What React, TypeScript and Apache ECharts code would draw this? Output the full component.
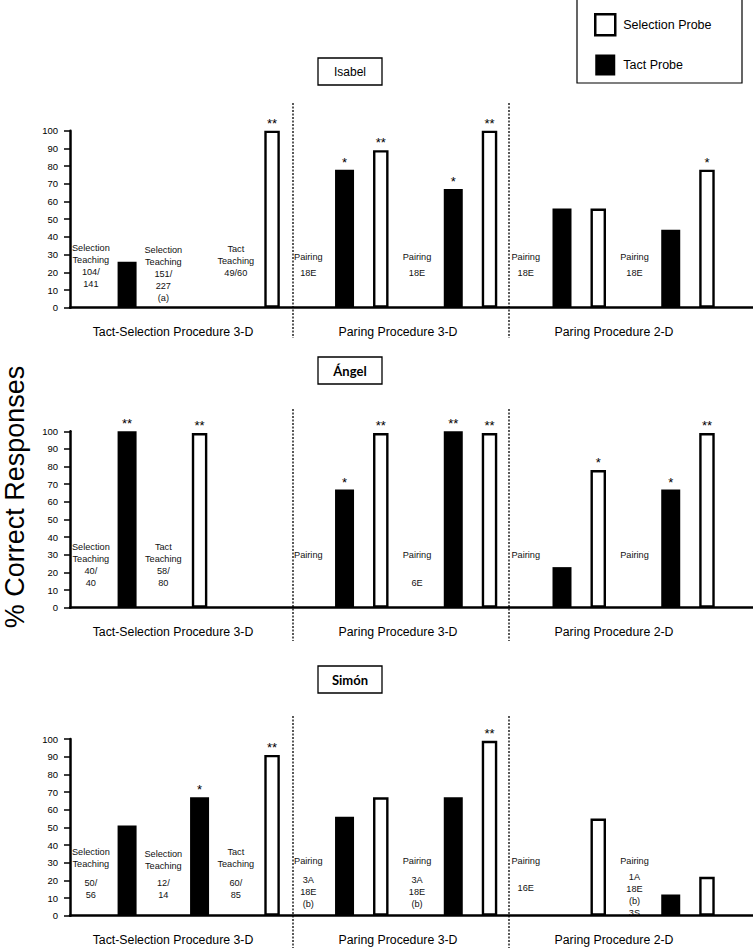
import React, { useEffect, useRef } from "react";
import * as echarts from "echarts";

// ---------- data ----------
const participants = ["Isabel", "Ángel", "Simón"];
const sectionLabels = ["Tact-Selection Procedure 3-D", "Paring Procedure 3-D", "Paring Procedure 2-D"];
const seriesNames = ["Selection Probe", "Tact Probe"];

// Isabel
const isabelTactSlots = [0, 6, 9, 12, 15];
const isabelTactValues = [26, 78, 67, 56, 44];
const isabelTactStars = ["", "*", "*", "", ""];
const isabelSelSlots = [4, 7, 10, 13, 16];
const isabelSelValues = [100, 89, 100, 56, 78];
const isabelSelStars = ["**", "**", "**", "", "*"];
const isabelNotes = [
  { slot: -1, value: 33.7, text: "Selection\nTeaching\n104/\n141" },
  { slot: 1, value: 32.6, text: "Selection\nTeaching\n151/\n227\n(a)" },
  { slot: 3, value: 33.1, text: "Tact\nTeaching\n49/60" },
  { slot: 5, value: 28.8, text: "Pairing" },
  { slot: 5, value: 19.6, text: "18E" },
  { slot: 8, value: 28.8, text: "Pairing" },
  { slot: 8, value: 19.6, text: "18E" },
  { slot: 11, value: 28.8, text: "Pairing" },
  { slot: 11, value: 19.6, text: "18E" },
  { slot: 14, value: 28.8, text: "Pairing" },
  { slot: 14, value: 19.6, text: "18E" },
];

// Ángel
const angelTactSlots = [0, 6, 9, 12, 15];
const angelTactValues = [100, 67, 100, 23, 67];
const angelTactStars = ["**", "*", "**", "", "*"];
const angelSelSlots = [2, 7, 10, 13, 16];
const angelSelValues = [99, 99, 99, 78, 99];
const angelSelStars = ["**", "**", "**", "*", "**"];
const angelNotes = [
  { slot: -1, value: 34.6, text: "Selection\nTeaching\n40/\n40" },
  { slot: 1, value: 34.6, text: "Tact\nTeaching\n58/\n80" },
  { slot: 5, value: 29.9, text: "Pairing" },
  { slot: 8, value: 29.9, text: "Pairing" },
  { slot: 8, value: 13.8, text: "6E" },
  { slot: 11, value: 29.9, text: "Pairing" },
  { slot: 14, value: 29.9, text: "Pairing" },
];

// Simón
const simonTactSlots = [0, 2, 6, 9, 15];
const simonTactValues = [51, 67, 56, 67, 12];
const simonTactStars = ["", "*", "", "", ""];
const simonSelSlots = [4, 7, 10, 13, 16];
const simonSelValues = [91, 67, 99, 55, 22];
const simonSelStars = ["**", "", "**", "", ""];
const simonNotes = [
  { slot: -1, value: 35.9, text: "Selection\nTeaching" },
  { slot: -1, value: 18.3, text: "50/\n56" },
  { slot: 1, value: 34.9, text: "Selection\nTeaching" },
  { slot: 1, value: 18.5, text: "12/\n14" },
  { slot: 3, value: 35.9, text: "Tact\nTeaching" },
  { slot: 3, value: 18.5, text: "60/\n85" },
  { slot: 5, value: 31.1, text: "Pairing" },
  { slot: 5, value: 20.2, text: "3A\n18E\n(b)" },
  { slot: 8, value: 31.1, text: "Pairing" },
  { slot: 8, value: 20.2, text: "3A\n18E\n(b)" },
  { slot: 11, value: 31.1, text: "Pairing" },
  { slot: 11, value: 15.5, text: "16E" },
  { slot: 14, value: 31.1, text: "Pairing" },
  { slot: 14, value: 21.9, text: "1A\n18E\n(b)\n3S" },
];

const panels = [
  { tact: [isabelTactSlots, isabelTactValues, isabelTactStars], sel: [isabelSelSlots, isabelSelValues, isabelSelStars], notes: isabelNotes },
  { tact: [angelTactSlots, angelTactValues, angelTactStars], sel: [angelSelSlots, angelSelValues, angelSelStars], notes: angelNotes },
  { tact: [simonTactSlots, simonTactValues, simonTactStars], sel: [simonSelSlots, simonSelValues, simonSelStars], notes: simonNotes },
];

// ---------- layout ----------
const FONT = "'Liberation Sans', Arial, Helvetica, sans-serif";
const gridTops = [130.7, 431.3, 739];
const gridHeights = [177, 176.4, 176.7];
const nameBoxTops = [58, 357, 666];
const dottedRanges = [[103, 338], [409, 641], [716, 948]];
const dottedXs = [293, 509];
const sectionXs = [173, 398, 614];
const NOTE_LH = 12;

export default function App() {
  const ref = useRef<HTMLDivElement>(null);

  useEffect(() => {
    document.body.style.margin = "0";
    const chart = echarts.init(ref.current!, null, { renderer: "svg" });

    const grids: any[] = [];
    const xAxes: any[] = [];
    const yAxes: any[] = [];
    const series: any[] = [];

    panels.forEach((p, g) => {
      grids.push({ left: 70, right: 0, top: gridTops[g], height: gridHeights[g] });
      for (let k = 0; k < 2; k++) {
        xAxes.push({
          type: "value",
          gridIndex: g,
          min: -1.575,
          max: 17.27,
          show: k === 0,
          axisLine: { show: true, onZero: false, lineStyle: { color: "#000", width: 2.5 } },
          axisTick: { show: false },
          axisLabel: { show: false },
          splitLine: { show: false },
        });
      }
      yAxes.push({
        type: "value",
        gridIndex: g,
        min: 0,
        max: 100,
        interval: 10,
        axisLine: { show: true, onZero: false, lineStyle: { color: "#000", width: 2.5 } },
        axisTick: { show: true, length: 6, lineStyle: { color: "#000", width: 1.5 } },
        axisLabel: { color: "#000", fontSize: 9.5, fontFamily: FONT, margin: 12 },
        splitLine: { show: false },
      });
      const [sSlots, sVals, sStars] = p.sel as any[];
      const [tSlots, tVals, tStars] = p.tact as any[];
      series.push({
        type: "bar",
        name: seriesNames[0],
        xAxisIndex: 2 * g + 1,
        yAxisIndex: g,
        barWidth: 15.5,
        itemStyle: { color: "#fff", borderColor: "#000", borderWidth: 2.4 },
        data: sSlots.map((s: number, i: number) => [s, sVals[i]]),
        label: {
          show: true,
          position: "top",
          distance: 1,
          color: "#000",
          fontSize: 13,
          fontFamily: FONT,
          formatter: (q: any) => sStars[q.dataIndex],
        },
      });
      series.push({
        type: "bar",
        name: seriesNames[1],
        xAxisIndex: 2 * g,
        yAxisIndex: g,
        barWidth: 19,
        itemStyle: { color: "#000" },
        data: tSlots.map((s: number, i: number) => [s, tVals[i]]),
        label: {
          show: true,
          position: "top",
          distance: 1,
          color: "#000",
          fontSize: 13,
          fontFamily: FONT,
          formatter: (q: any) => tStars[q.dataIndex],
        },
      });
    });

    chart.setOption({
      animation: false,
      backgroundColor: "#fff",
      grid: grids,
      xAxis: xAxes,
      yAxis: yAxes,
      series,
      legend: {
        left: 594,
        top: 13,
        orient: "vertical",
        itemWidth: 20,
        itemHeight: 21,
        itemGap: 18,
        padding: 0,
        selectedMode: false,
        textStyle: { fontSize: 12.5, fontFamily: FONT, color: "#000", padding: [0, 0, 0, 3] },
        data: [
          { name: seriesNames[0], icon: "rect", itemStyle: { color: "#fff", borderColor: "#000", borderWidth: 2.5 } },
          { name: seriesNames[1], icon: "rect", itemStyle: { color: "#000" } },
        ],
      },
    });

    const graphics: any[] = [];
    // legend border
    graphics.push({
      type: "rect",
      shape: { x: 577, y: -1, width: 165, height: 84 },
      style: { fill: "none", stroke: "#000", lineWidth: 1.2 },
    });
    // y axis title
    graphics.push({
      type: "text",
      x: 15,
      y: 497,
      rotation: Math.PI / 2,
      style: {
        text: "% Correct Responses",
        fill: "#000",
        fontSize: 27,
        fontFamily: FONT,
        textAlign: "center",
        textVerticalAlign: "middle",
      },
    });
    panels.forEach((p, g) => {
      // name box
      graphics.push({
        type: "rect",
        shape: { x: 318, y: nameBoxTops[g], width: 64, height: 27 },
        style: { fill: "#fff", stroke: "#000", lineWidth: 1.3 },
      });
      graphics.push({
        type: "text",
        x: 350,
        y: nameBoxTops[g] + 13.5,
        style: {
          text: participants[g],
          fill: "#000",
          fontSize: g === 0 ? 12 : 13,
          fontWeight: g === 0 ? "normal" : "bold",
          fontFamily: g === 0 ? FONT : "Lato, 'Open Sans', sans-serif",
          textAlign: "center",
          textVerticalAlign: "middle",
        },
      });
      // dotted separators
      dottedXs.forEach((dx) => {
        graphics.push({
          type: "line",
          shape: { x1: dx, y1: dottedRanges[g][0], x2: dx, y2: dottedRanges[g][1] },
          style: { stroke: "#000", lineWidth: 1.3, lineDash: [2, 1.5] },
        });
      });
      // section labels
      const zeroY = gridTops[g] + gridHeights[g];
      sectionLabels.forEach((lab, i) => {
        graphics.push({
          type: "text",
          x: sectionXs[i],
          y: zeroY + 24,
          style: {
            text: lab,
            fill: "#000",
            fontSize: 12.3,
            fontFamily: FONT,
            textAlign: "center",
            textVerticalAlign: "middle",
          },
        });
      });
      // annotations
      p.notes.forEach((n) => {
        const pt = chart.convertToPixel({ xAxisIndex: 2 * g, yAxisIndex: g } as any, [n.slot, n.value]) as number[];
        graphics.push({
          type: "text",
          x: pt[0],
          y: pt[1] - NOTE_LH / 2,
          style: {
            text: n.text,
            fill: "#111",
            fontSize: 9.2,
            fontFamily: FONT,
            lineHeight: NOTE_LH,
            textAlign: "center",
            textVerticalAlign: "top",
          },
        });
      });
    });

    chart.setOption({ graphic: graphics });

    return () => chart.dispose();
  }, []);

  return (
    <div
      ref={ref}
      style={{ position: "absolute", left: 0, top: 0, width: 753, height: 948, background: "#fff" }}
    />
  );
}
